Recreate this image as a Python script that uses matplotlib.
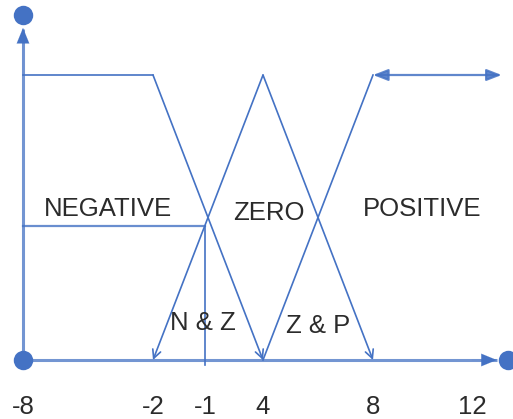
import matplotlib.pyplot as plt
import numpy as np

# valores del diagrama (funciones de pertenencia)
tick_values = [-8, -2, -1, 4, 8, 12]
tick_labels = ["-8", "-2", "-1", "4", "8", "12"]

neg_x = [-8, -2, 4]
neg_y = [1, 1, 0]
zero_x = [-2, 4, 8]
zero_y = [0, 1, 0]
pos_x = [4, 8, 13.2]
pos_y = [0, 1, 1]

cut_x = -1
cut_y = 0.47

names = ["NEGATIVE", "ZERO", "POSITIVE", "N & Z", "Z & P"]
name_x = [-4.1, 4.2, 10.0, -1.05, 6.0]
name_y = [0.53, 0.515, 0.53, 0.13, 0.12]

# posicion en pixeles de cada valor del eje (el dibujo no es lineal)
tick_px = [23, 153, 205, 263, 373, 472]

BLUE = "#4472C4"
TXT = "#2b2b2b"


def piecewise(src, dst):
    src = np.asarray(src, float)
    dst = np.asarray(dst, float)
    s0 = (dst[1] - dst[0]) / (src[1] - src[0])
    s1 = (dst[-1] - dst[-2]) / (src[-1] - src[-2])

    def f(v):
        v = np.asarray(v, float)
        out = np.interp(v, src, dst)
        out = np.where(v < src[0], dst[0] + (v - src[0]) * s0, out)
        out = np.where(v > src[-1], dst[-1] + (v - src[-1]) * s1, out)
        return out
    return f


fwd = piecewise(tick_values, tick_px)
inv = piecewise(tick_px, tick_values)

fig = plt.figure(figsize=(5.13, 4.19), dpi=100)
ax = fig.add_axes([0, 0, 1, 1])
ax.set_xscale("function", functions=(fwd, inv))
ax.set_xlim(float(inv(0)), float(inv(513)))
# pertenencia 0 en y=360px, 1 en y=75px
ax.set_ylim((360 - 419) / 285, 360 / 285)
ax.axis("off")

plt.rcParams["font.family"] = ["Liberation Sans", "DejaVu Sans"]

# ejes con flechas y circulos
ax.plot([-8, 13.0], [0, 0], color=BLUE, lw=2.2, alpha=0.75, solid_capstyle="butt")
ax.plot([-8, -8], [0, 1.16], color=BLUE, lw=2.2, alpha=0.75, solid_capstyle="butt")
ax.annotate("", xy=(-8, 1.165), xytext=(-8, 1.0),
            arrowprops=dict(arrowstyle="-|>,head_length=1.1,head_width=0.45",
                            color=BLUE, lw=0.1, shrinkA=0, shrinkB=0))
ax.annotate("", xy=(13.0, 0), xytext=(12.0, 0),
            arrowprops=dict(arrowstyle="-|>,head_length=1.1,head_width=0.45",
                            color=BLUE, lw=0.1, shrinkA=0, shrinkB=0))
ax.plot([-8, -8, 13.45], [0, 1.21, 0], "o", color=BLUE, ms=14, mec="none", clip_on=False)

line_kw = dict(color=BLUE, lw=1.2)
arrow_open = dict(arrowstyle="->,head_length=0.6,head_width=0.3",
                  color=BLUE, lw=1.2, shrinkA=0, shrinkB=0)

# NEGATIVE
ax.plot(neg_x[:2], neg_y[:2], **line_kw)
ax.annotate("", xy=(neg_x[2], neg_y[2]), xytext=(neg_x[1], neg_y[1]), arrowprops=arrow_open)

# ZERO
ax.annotate("", xy=(zero_x[0], zero_y[0]), xytext=(zero_x[1], zero_y[1]), arrowprops=arrow_open)
ax.annotate("", xy=(zero_x[2], zero_y[2]), xytext=(zero_x[1], zero_y[1]), arrowprops=arrow_open)

# POSITIVE
ax.plot(pos_x[:2], pos_y[:2], **line_kw)
ax.annotate("", xy=(pos_x[2], pos_y[2]), xytext=(pos_x[1], pos_y[1]),
            arrowprops=dict(arrowstyle="<|-|>,head_length=0.9,head_width=0.35",
                            color=BLUE, lw=1.6, alpha=0.85, shrinkA=0, shrinkB=0))

# corte en -1
ax.plot([-8, cut_x], [cut_y, cut_y], color=BLUE, lw=1.6, alpha=0.8)
ax.plot([cut_x, cut_x], [cut_y, -0.018], color=BLUE, lw=1.2)

for n, x, y in zip(names, name_x, name_y):
    ax.text(x, y, n, ha="center", va="center", fontsize=18.5, color=TXT)

for v, lab in zip(tick_values, tick_labels):
    ax.text(v, -0.165, lab, ha="center", va="center", fontsize=18.5, color=TXT)

fig.savefig("out.png", dpi=100)
